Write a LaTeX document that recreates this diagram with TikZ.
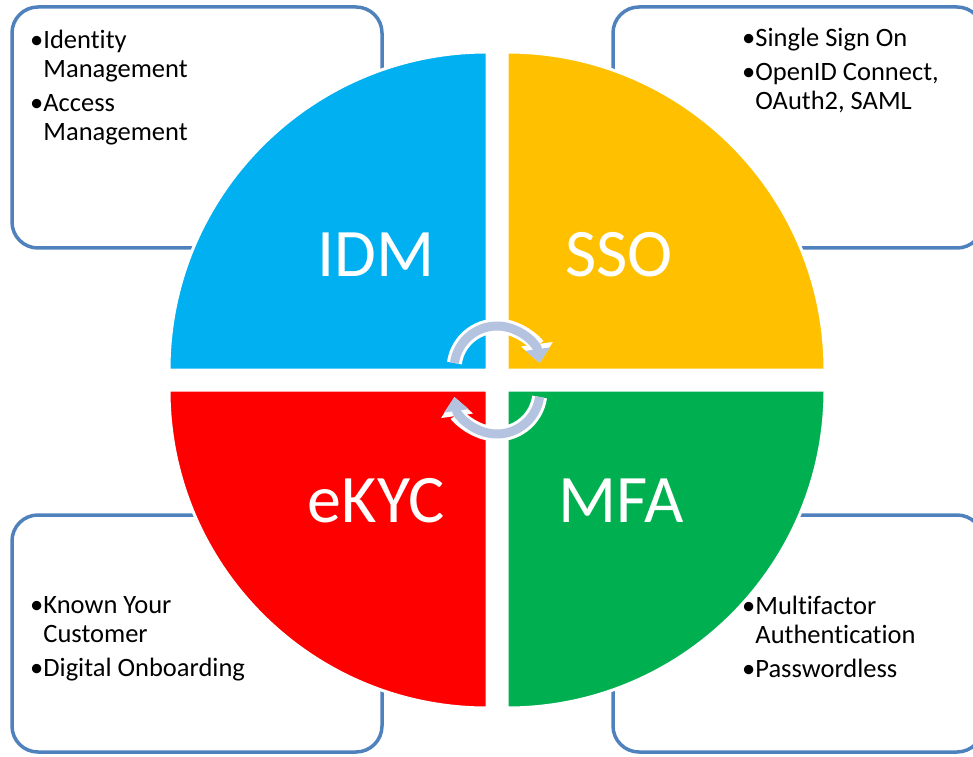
\documentclass[tikz,border=0pt]{standalone}
\usepackage{fontspec}
\setmainfont{Carlito}[Ligatures={NoCommon,NoContextual}]
\usetikzlibrary{arrows.meta}
\definecolor{idmblue}{HTML}{00B0F0}
\definecolor{ssoyellow}{HTML}{FFC000}
\definecolor{ekycred}{HTML}{FF0000}
\definecolor{mfagreen}{HTML}{00B050}
\definecolor{boxblue}{HTML}{4F81BD}
\definecolor{cyclegray}{HTML}{B4C3DF}
\tikzset{
  infobox/.style={draw=boxblue, line width=3.5pt, rounded corners=26pt},
  infotext/.style={anchor=north west, align=left, inner sep=0pt, font=\fontsize{26.5}{29}\selectfont},
  quad/.style={draw=white, line width=3pt},
  quadlabel/.style={anchor=base, text=white, inner sep=0pt, font=\fontsize{68}{72}\selectfont},
  cycout/.style={white, line width=15pt, -{Triangle[width=31pt,length=19pt]}},
  cycin/.style={cyclegray, line width=9pt, -{Triangle[width=24pt,length=14pt]}},
}
\begin{document}
\begin{tikzpicture}[x=1pt,y=1pt]
\useasboundingbox (0,0) rectangle (973,756);
\clip (0,0) rectangle (973,756);
% side boxes
\draw[infobox] (12,508) rectangle (382,749);
\draw[infobox] (613,508) rectangle (983,749);
\draw[infobox] (12,4) rectangle (382,241);
\draw[infobox] (613,4) rectangle (983,241);
\node[infotext] (idmtext) at (30,726) {•Identity\\\phantom{•}Management\\[5pt]•Access\\\phantom{•}Management};
\node[infotext] (ssotext) at (742,728) {•Single Sign On\\[5pt]•OpenID Connect,\\\phantom{•}OAuth2, SAML};
\node[infotext] (ekyctext) at (30,160) {•Known Your\\\phantom{•}Customer\\[5pt]•Digital Onboarding};
\node[infotext] (mfatext) at (742,160) {•Multifactor\\\phantom{•}Authentication\\[5pt]•Passwordless};
% the four quarters
\filldraw[quad, fill=idmblue] (487,386) -- ++(-318,0) arc[start angle=180, end angle=90, radius=318] -- cycle;
\filldraw[quad, fill=ssoyellow] (507,386) -- ++(0,318) arc[start angle=90, end angle=0, radius=318] -- cycle;
\filldraw[quad, fill=ekycred] (487,366) -- ++(-318,0) arc[start angle=180, end angle=270, radius=318] -- cycle;
\filldraw[quad, fill=mfagreen] (507,366) -- ++(318,0) arc[start angle=0, end angle=-90, radius=318] -- cycle;
\node[quadlabel] (idm) at (376,479) {IDM};
\node[quadlabel] (sso) at (619,479) {SSO};
\node[quadlabel] (ekyc) at (376,234) {eKYC};
\node[quadlabel] (mfa) at (621,234) {MFA};
% cycle arrows in the middle
\foreach \a/\b/\cy in {172/8/387, -8/-172/365} {
  \draw[cycout] (497,\cy) ++(\a:43) arc[start angle=\a, end angle=\b, radius=43];
  \draw[cycin] (497,\cy) ++(\a:43) arc[start angle=\a, end angle=\b, radius=43];
}
\end{tikzpicture}
\end{document}
